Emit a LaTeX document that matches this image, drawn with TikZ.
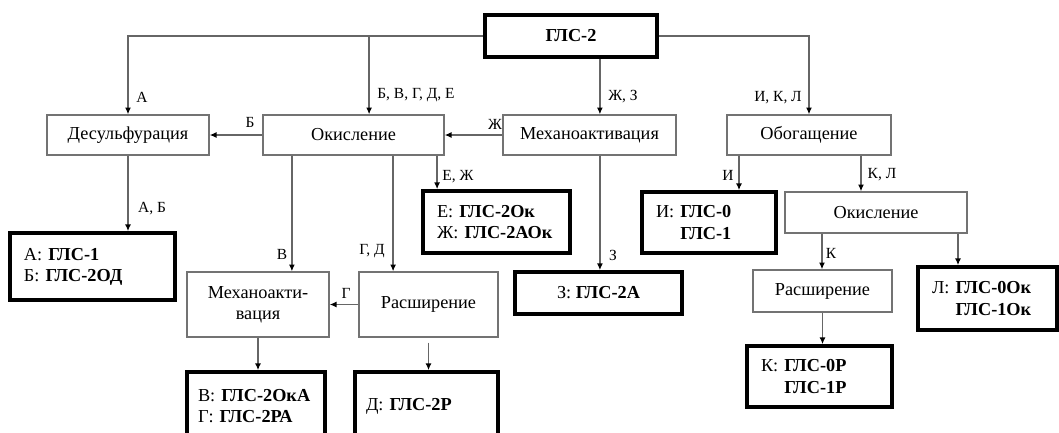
\documentclass[tikz,border=0pt]{standalone}
\usepackage{fontspec}
\setmainfont{Liberation Serif}
\usetikzlibrary{arrows.meta,calc}
\newcommand{\glc}[1]{\mbox{\textbf{ГЛС-#1}}}
\tikzset{
  stage/.style={draw=black!55, line width=1pt, fill=white, inner sep=2pt,
                align=center, font=\fontsize{13}{15}\selectfont},
  result/.style={draw=black, line width=2.6pt, fill=white,
                 inner xsep=3.5mm, inner ysep=2pt, align=left,
                 font=\fontsize{13}{15}\selectfont},
  flow/.style={draw=black!60, line width=0.9pt,
               -{Latex[length=1.7mm,width=1.5mm,color=black]}},
  lab/.style={font=\fontsize{11}{13}\selectfont, inner sep=0pt},
}
\begin{document}
\begin{tikzpicture}[x=0.25mm,y=-0.25mm]
  \path[use as bounding box] (0,0) rectangle (1059,432);

  % source sample
  \node[result, align=center, minimum width=43mm, minimum height=10.5mm] (top) at (571,36) {\glc{2}};

  % first row of treatments
  \node[stage, minimum width=40.5mm, minimum height=10mm] (desulf) at (128,135) {Десульфурация};
  \node[stage, minimum width=45.25mm, minimum height=10mm] (oxid) at (353.5,135) {Окисление};
  \node[stage, minimum width=43.25mm, minimum height=10mm] (mech) at (589.5,135) {Механоактивация};
  \node[stage, minimum width=41mm, minimum height=10mm] (enrich) at (809,135) {Обогащение};

  % left branch
  \node[result, text width=34.25mm, minimum height=16.75mm] (resAB) at (92.5,266.5)
    {А:~\glc{1}\\Б:~\glc{2ОД}};
  \node[result, text width=29.75mm, minimum height=15.5mm] (resEZh) at (496.5,222)
    {Е:~\glc{2Ок}\\Ж:~\glc{2АОк}};
  \node[stage, minimum width=35.5mm, minimum height=16.25mm] (mech2) at (258,304.5) {Механоакти-\\вация};
  \node[stage, minimum width=34.75mm, minimum height=16.25mm] (expand) at (428.5,304.5) {Расширение};
  \node[result, inner xsep=2.75mm, text width=29mm, minimum height=17mm] (resVG) at (256,406)
    {В:~\glc{2ОкА}\\Г:~\glc{2РА}};
  \node[result, inner xsep=2.75mm, text width=30.25mm, minimum height=17mm] (resD) at (426.5,406) {Д:~\glc{2Р}};
  \node[result, align=center, minimum width=41.75mm, minimum height=10.5mm] (resZ) at (598.5,293) {З:~\glc{2А}};

  % right branch
  \node[result, text width=26.5mm, minimum height=15.25mm] (resI) at (709,222.5)
    {И:~\glc{0}\\\phantom{И: }\glc{1}};
  \node[stage, minimum width=45.5mm, minimum height=10.25mm] (oxid2) at (876,212.5) {Окисление};
  \node[stage, minimum width=34.75mm, minimum height=10.5mm] (expand2) at (822.5,291) {Расширение};
  \node[result, text width=29.25mm, minimum height=15.25mm] (resK) at (819.5,376.5)
    {К:~\glc{0Р}\\\phantom{К: }\glc{1Р}};
  \node[result, text width=27.75mm, minimum height=15.75mm] (resL) at (987.5,298.5)
    {Л:~\glc{0Ок}\\\phantom{Л: }\glc{1Ок}};

  % connectors from the source
  \coordinate (oxin) at ([xshift=3.9mm]oxid.north);
  \coordinate (mechin) at ([xshift=2.6mm]mech.north);
  \draw[flow] (top.west) -| (desulf.north);
  \draw[flow] (top.west -| oxin) -- (oxin);
  \draw[flow] (top.south -| mechin) -- (mechin);
  \draw[flow] (top.east) -| (enrich.north);

  % connectors between treatments
  \coordinate (oxa) at ([xshift=-15.4mm]oxid.south);
  \coordinate (oxb) at ([xshift=9.9mm]oxid.south);
  \coordinate (oxc) at ([xshift=20.9mm]oxid.south);
  \coordinate (mechout) at ([xshift=2.6mm]mech.south);
  \coordinate (ena) at ([xshift=-17.5mm]enrich.south);
  \coordinate (enb) at ([xshift=13mm]enrich.south);
  \coordinate (o2a) at ([xshift=-13.5mm]oxid2.south);
  \coordinate (o2b) at ([xshift=20.5mm]oxid2.south);
  \draw[flow] (oxid.west) -- (desulf.east);
  \draw[flow] (mech.west) -- (oxid.east);
  \draw[flow] (desulf.south) -- (desulf.south |- resAB.north);
  \draw[flow] (oxa) -- (oxa |- mech2.north);
  \draw[flow] (oxb) -- (oxb |- expand.north);
  \draw[flow] (oxc) -- (oxc |- resEZh.north);
  \draw[flow] (mechout) -- (mechout |- resZ.north);
  \draw[flow] (ena) -- (ena |- resI.north);
  \draw[flow] (enb) -- (enb |- oxid2.north);
  \draw[flow] (o2a) -- (o2a |- expand2.north);
  \draw[flow] (o2b) -- (o2b |- resL.north);
  \draw[flow] (expand2.south) -- (expand2.south |- resK.north);
  \draw[flow] (expand.west) -- (expand.west -| mech2.east);
  \draw[flow] (mech2.south) -- (mech2.south |- resVG.north);
  \draw[flow] ([yshift=-1.2mm]expand.south) -- (expand.south |- resD.north);

  % route labels
  \node[lab] (lA) at (142,97) {А};
  \node[lab] (lBVGDE) at (416,95) {Б, В, Г, Д, Е};
  \node[lab] (lZhZ) at (623,97) {Ж, З};
  \node[lab] (lIKL) at (778,98) {И, К, Л};
  \node[lab] (lB) at (250,122) {Б};
  \node[lab] (lZh) at (495,124) {Ж};
  \node[lab] (lAB) at (152,209) {А, Б};
  \node[lab] (lEZh) at (458,177) {Е, Ж};
  \node[lab] (lV) at (282,254) {В};
  \node[lab] (lGD) at (372,251) {Г, Д};
  \node[lab] (lG) at (346,293) {Г};
  \node[lab] (lZ) at (613,255) {З};
  \node[lab] (lI) at (728,175) {И};
  \node[lab] (lKL) at (882,175) {К, Л};
  \node[lab] (lK) at (831,253) {К};
\end{tikzpicture}
\end{document}
